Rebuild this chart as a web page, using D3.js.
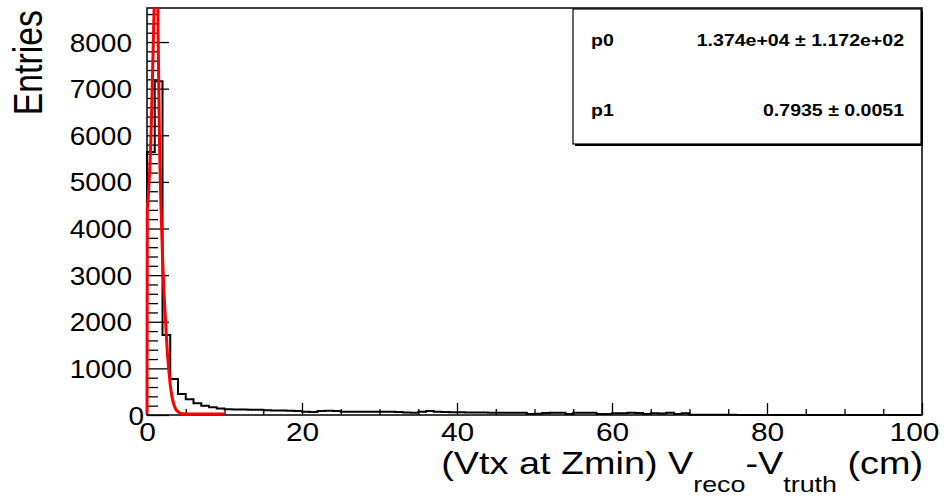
<!DOCTYPE html>
<html>
<head>
<meta charset="utf-8">
<script src="https://cdn.jsdelivr.net/npm/d3@7"></script>
<style>
html,body{margin:0;padding:0;background:#fff;}
svg{display:block;}
text{font-family:"Liberation Sans",Arial,Helvetica,sans-serif;fill:#000;}
</style>
</head>
<body>
<svg id="chart" width="944" height="498"></svg>
<script>
// ---------------- data ----------------
// 1 cm bins from 0 to 100 cm (entries per bin)
const binWidth = 1;
const binCounts = [
  5640, 7160, 1715, 770, 450, 336, 250, 200, 165, 140,
  125, 120, 118, 115, 110, 100, 98, 95, 92, 88,
  70, 65, 85, 90, 88, 72, 70, 72, 70, 68,
  70, 68, 66, 52, 50, 72, 84, 68, 65, 58,
  58, 55, 56, 52, 50, 50, 48, 50, 46, 22,
  25, 45, 48, 46, 22, 48, 50, 46, 20, 22,
  38, 36, 48, 45, 22, 35, 34, 48, 22, 36,
  8, 6, 5, 4, 3, 3, 2, 2, 2, 1,
  1, 1, 0, 1, 0, 0, 1, 0, 0, 0,
  0, 0, 0, 0, 0, 0, 0, 0, 0, 0
];
// fitted function (x in cm, value in entries)
const fitX = [0, 0.04, 0.15, 0.3, 0.5, 0.7, 0.9, 1.1, 1.3, 1.45, 1.6, 1.8, 2.0, 2.2, 2.4, 2.6, 2.8, 3.0, 3.2, 3.4, 3.7, 4.0, 4.5, 5, 6, 7, 8, 9, 10];
const fitY = [0, 4400, 4650, 5100, 5900, 7200, 8600, 9600, 9500, 8000, 6000, 4500, 3400, 2600, 2000, 1400, 1000, 650, 420, 260, 130, 70, 25, 10, 3, 1, 0, 0, 0];
// axis ticks
const xTicks = [0, 20, 40, 60, 80, 100];
const yTicks = [0, 1000, 2000, 3000, 4000, 5000, 6000, 7000, 8000];
const xDomain = [0, 100];
const yDomain = [0, 8730];
const statNames = ["p0", "p1"];
const statValues = ["1.374e+04 \u00b1 1.172e+02", "0.7935 \u00b1 0.0051"];
const xTitleParts = ["(Vtx at Zmin) V", "reco", "-V", "truth", " (cm)"];
const yTitle = "Entries";

// ---------------- layout ----------------
const svg = d3.select("#chart");
const L = 147, R = 922, T = 8, B = 415;
const x = d3.scaleLinear().domain(xDomain).range([L, R]);
const y = d3.scaleLinear().domain(yDomain).range([B, T]);

svg.append("rect").attr("width", 944).attr("height", 498).attr("fill", "#fff");

svg.append("clipPath").attr("id", "frameClip")
  .append("rect").attr("x", L - 2).attr("y", T).attr("width", R - L + 2).attr("height", B - T + 3);

// histogram
const histPts = [[0, 0]];
binCounts.forEach((c, i) => histPts.push([i * binWidth, c]));
histPts.push([binCounts.length * binWidth, binCounts[binCounts.length - 1]]);
const stepLine = d3.line().x(d => x(d[0])).y(d => y(d[1])).curve(d3.curveStepAfter);
svg.append("path").attr("d", stepLine(histPts))
  .attr("fill", "none").attr("stroke", "#000").attr("stroke-width", 2)
  .attr("clip-path", "url(#frameClip)");

// x axis ticks
const xMinor = d3.range(0, 101, 5);
const gx = svg.append("g").attr("transform", `translate(0,${B})`);
gx.call(d3.axisBottom(x).tickValues(xMinor).tickSize(0).tickFormat(""));
gx.select(".domain").remove();
gx.selectAll(".tick line").attr("y2", d => xTicks.includes(d) ? -12 : -6)
  .attr("stroke", "#000").attr("stroke-width", 1.3);
const XSX = 1.15;
const gxl = svg.append("g").attr("transform", `translate(0,${B})`);
gxl.call(d3.axisBottom(x).tickValues(xTicks).tickSize(0).tickPadding(0).tickFormat(d3.format("d")));
gxl.select(".domain").remove();
gxl.selectAll(".tick text")
  .attr("font-size", 26).attr("dy", 0).attr("y", 26)
  .attr("x", d => (d === 100 ? -8 : 0) / XSX)
  .attr("transform", `scale(${XSX},1)`);

// y axis ticks
const YSX = 1.12;
const yMinor = d3.range(0, 8601, 200);
const gy = svg.append("g").attr("transform", `translate(${L},0)`);
gy.call(d3.axisLeft(y).tickValues(yMinor).tickSize(0).tickFormat(""));
gy.select(".domain").remove();
gy.selectAll(".tick line").attr("x2", d => yTicks.includes(d) ? 22 : 11)
  .attr("stroke", "#000").attr("stroke-width", 1.3);
const gyl = svg.append("g").attr("transform", `translate(${L},0)`);
gyl.call(d3.axisLeft(y).tickValues(yTicks).tickSize(0).tickPadding(0).tickFormat(d3.format("d")));
gyl.select(".domain").remove();
gyl.selectAll(".tick text")
  .attr("font-size", 25).attr("dy", "0.36em")
  .attr("x", d => (d === 0 ? -3 : -15) / YSX)
  .attr("transform", `scale(${YSX},1)`);

// frame
svg.append("rect").attr("x", L).attr("y", T).attr("width", R - L).attr("height", B - T)
  .attr("fill", "none").attr("stroke", "#000").attr("stroke-width", 1.5);

// fit curve (drawn above the frame, as in the original)
const fitLine = d3.line().x((d, i) => x(fitX[i])).y(d => Math.min(y(d), B - 1)).curve(d3.curveMonotoneX);
svg.append("path").attr("d", fitLine(fitY))
  .attr("fill", "none").attr("stroke", "#ff0000").attr("stroke-width", 3)
  .attr("stroke-linejoin", "round")
  .attr("clip-path", "url(#frameClip)");

// axis titles
const xt = svg.append("text").attr("transform", `translate(923,474) scale(1.22,1)`)
  .attr("text-anchor", "end").attr("font-size", 31);
xt.append("tspan").text(xTitleParts[0]);
xt.append("tspan").attr("font-size", 22).attr("dy", 18).text(xTitleParts[1]);
xt.append("tspan").attr("dy", -18).text(xTitleParts[2]);
xt.append("tspan").attr("font-size", 22).attr("dy", 18).text(xTitleParts[3]);
xt.append("tspan").attr("dy", -18).text(xTitleParts[4]);

svg.append("text").attr("transform", "translate(42,10) rotate(-90) scale(0.94,1.12)")
  .attr("text-anchor", "end").attr("font-size", 36).text(yTitle);

// stat box
const bx0 = 573, by0 = 9, bx1 = 921, by1 = 144;
svg.append("rect").attr("x", bx0 + 2).attr("y", by0 + 2).attr("width", bx1 - bx0).attr("height", by1 - by0).attr("fill", "#000");
svg.append("rect").attr("x", bx0).attr("y", by0).attr("width", bx1 - bx0).attr("height", by1 - by0)
  .attr("fill", "#fff").attr("stroke", "#000").attr("stroke-width", 1.2);
const rowY = [46, 116];
statNames.forEach((n, i) => {
  svg.append("text").attr("transform", `translate(591,${rowY[i]}) scale(1.15,1)`)
    .attr("font-size", 17).attr("font-weight", "bold").text(n);
  svg.append("text").attr("transform", `translate(904,${rowY[i]}) scale(1.15,1)`)
    .attr("text-anchor", "end").attr("font-size", 17).attr("font-weight", "bold").text(statValues[i]);
});
</script>
</body>
</html>
